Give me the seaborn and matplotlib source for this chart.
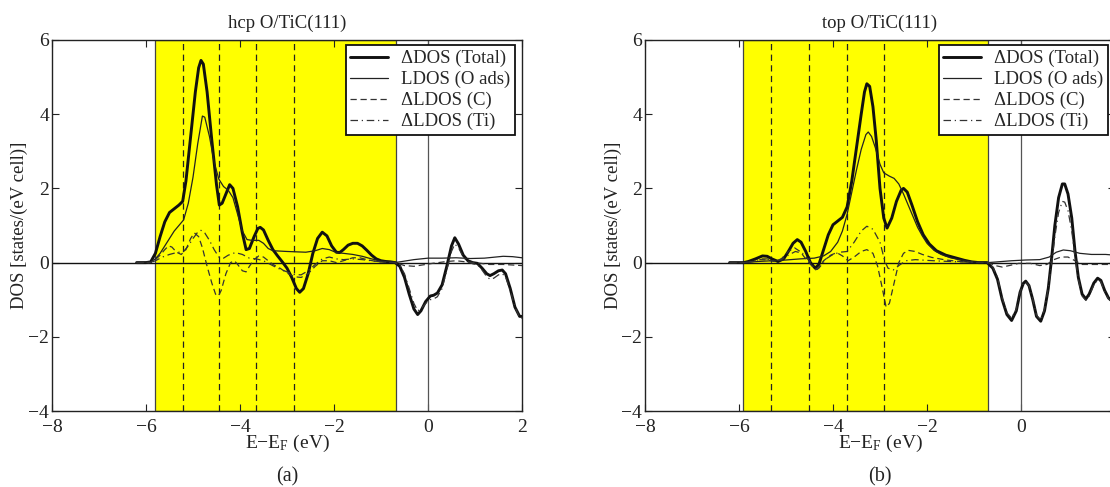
import matplotlib
matplotlib.use("Agg")
import matplotlib.pyplot as plt
import seaborn as sns

# ---------------- data ----------------
panel_titles = ["hcp O/TiC(111)", "top O/TiC(111)"]
panel_tags = ["(a)", "(b)"]
series_labels = ["ΔDOS (Total)", "LDOS (O ads)", "ΔLDOS (C)", "ΔLDOS (Ti)"]
x_ticks = [-8, -6, -4, -2, 0, 2]
y_ticks = [-4, -2, 0, 2, 4, 6]

# shaded energy window (eV) and dashed reference levels per panel
hcp_window = (-5.81, -0.69)
top_window = (-5.91, -0.71)
hcp_levels = [-5.22, -4.44, -3.65, -2.86]
top_levels = [-5.31, -4.51, -3.71, -2.91]

hcp_total = [(-6.2,0),(-6.0,0),(-5.9,0.02),(-5.8,0.25),(-5.7,0.7),(-5.6,1.1),(-5.5,1.35),(-5.4,1.45),
             (-5.3,1.55),(-5.22,1.65),(-5.15,2.2),(-5.05,3.4),(-4.95,4.6),(-4.88,5.25),(-4.83,5.45),
             (-4.78,5.35),(-4.7,4.6),(-4.6,3.3),(-4.5,2.1),(-4.44,1.55),(-4.38,1.6),(-4.3,1.85),
             (-4.22,2.1),(-4.15,2.0),(-4.05,1.5),(-3.95,0.8),(-3.87,0.35),(-3.8,0.38),(-3.7,0.7),
             (-3.62,0.92),(-3.57,0.95),(-3.5,0.88),(-3.4,0.6),(-3.3,0.35),(-3.2,0.18),(-3.1,0.02),
             (-3.0,-0.15),(-2.9,-0.4),(-2.8,-0.7),(-2.73,-0.8),(-2.65,-0.7),(-2.55,-0.3),(-2.45,0.25),
             (-2.35,0.65),(-2.25,0.82),(-2.15,0.72),(-2.05,0.45),(-1.95,0.28),(-1.88,0.27),(-1.8,0.35),
             (-1.7,0.47),(-1.6,0.52),(-1.5,0.52),(-1.4,0.45),(-1.3,0.33),(-1.2,0.2),(-1.1,0.1),
             (-1.0,0.05),(-0.9,0.03),(-0.8,0.02),(-0.7,0.0),(-0.6,-0.1),(-0.5,-0.4),(-0.4,-0.85),
             (-0.3,-1.25),(-0.22,-1.4),(-0.15,-1.3),(-0.05,-1.05),(0.05,-0.9),(0.12,-0.88),(0.2,-0.82),
             (0.3,-0.6),(0.4,-0.1),(0.5,0.45),(0.57,0.67),(0.65,0.5),(0.75,0.2),(0.85,0.05),(0.95,0.0),
             (1.05,-0.02),(1.15,-0.15),(1.25,-0.3),(1.32,-0.35),(1.4,-0.3),(1.5,-0.22),(1.58,-0.2),
             (1.65,-0.3),(1.75,-0.7),(1.85,-1.2),(1.95,-1.45),(2.0,-1.45)]

hcp_O = [(-6.2,0),(-5.9,0.02),(-5.8,0.1),(-5.7,0.25),(-5.6,0.45),(-5.5,0.65),(-5.4,0.85),(-5.3,1.0),
         (-5.2,1.15),(-5.1,1.6),(-5.0,2.3),(-4.9,3.2),(-4.8,3.95),(-4.75,3.92),(-4.65,3.4),(-4.55,2.7),
         (-4.45,2.25),(-4.35,2.05),(-4.25,1.95),(-4.15,1.75),(-4.05,1.3),(-3.95,0.85),(-3.85,0.62),
         (-3.75,0.6),(-3.6,0.6),(-3.5,0.52),(-3.4,0.38),(-3.3,0.32),(-3.0,0.3),(-2.6,0.28),(-2.4,0.32),
         (-2.25,0.38),(-2.1,0.35),(-1.95,0.27),(-1.8,0.25),(-1.6,0.22),(-1.4,0.17),(-1.2,0.1),
         (-1.0,0.04),(-0.8,0.02),(-0.65,0.01),(-0.5,0.04),(-0.3,0.08),(0.0,0.12),(0.3,0.12),
         (0.6,0.13),(0.9,0.11),(1.2,0.12),(1.6,0.17),(1.8,0.16),(2.0,0.13)]

hcp_C = [(-6.2,0),(-5.9,0.0),(-5.8,0.08),(-5.7,0.2),(-5.6,0.35),(-5.52,0.45),(-5.45,0.42),(-5.35,0.28),
         (-5.25,0.22),(-5.15,0.35),(-5.05,0.65),(-4.97,0.8),(-4.88,0.7),(-4.8,0.4),(-4.7,-0.1),
         (-4.6,-0.55),(-4.52,-0.85),(-4.46,-0.9),(-4.4,-0.75),(-4.3,-0.3),(-4.2,0.0),(-4.12,0.05),
         (-4.05,-0.05),(-3.95,-0.22),(-3.87,-0.25),(-3.8,-0.1),(-3.7,0.08),(-3.6,0.18),(-3.5,0.15),
         (-3.4,0.05),(-3.3,-0.05),(-3.15,-0.15),(-3.0,-0.28),(-2.85,-0.38),(-2.7,-0.4),(-2.55,-0.3),
         (-2.4,-0.1),(-2.25,0.05),(-2.1,0.05),(-1.95,0.0),(-1.8,0.05),(-1.6,0.13),(-1.45,0.13),
         (-1.3,0.08),(-1.1,0.03),(-0.9,0.01),(-0.7,0.0),(-0.5,-0.08),(-0.3,-0.1),(-0.1,-0.06),
         (0.1,-0.02),(0.4,0.03),(0.6,0.05),(0.8,0.02),(1.0,0.0),(1.3,-0.05),(1.6,-0.05),(2.0,-0.08)]

hcp_Ti = [(-6.2,0),(-5.9,0.0),(-5.8,0.05),(-5.65,0.15),(-5.5,0.22),(-5.35,0.27),(-5.2,0.3),(-5.1,0.45),
          (-5.0,0.65),(-4.9,0.82),(-4.83,0.87),(-4.75,0.8),(-4.65,0.6),(-4.55,0.35),(-4.45,0.15),
          (-4.35,0.12),(-4.25,0.2),(-4.1,0.27),(-3.95,0.22),(-3.8,0.12),(-3.65,0.1),(-3.5,0.05),
          (-3.35,-0.05),(-3.2,-0.15),(-3.0,-0.25),(-2.85,-0.32),(-2.7,-0.33),(-2.55,-0.22),(-2.4,-0.05),
          (-2.25,0.1),(-2.1,0.15),(-1.95,0.1),(-1.8,0.08),(-1.6,0.1),(-1.4,0.08),(-1.2,0.05),
          (-1.0,0.02),(-0.7,0.0),(-0.6,-0.08),(-0.5,-0.3),(-0.4,-0.7),(-0.3,-1.1),(-0.22,-1.3),
          (-0.15,-1.25),(-0.05,-1.1),(0.05,-1.0),(0.12,-0.98),(0.2,-0.92),(0.3,-0.7),(0.4,-0.2),
          (0.5,0.3),(0.57,0.5),(0.65,0.4),(0.75,0.15),(0.85,0.02),(0.95,-0.03),(1.05,-0.05),
          (1.15,-0.2),(1.25,-0.38),(1.32,-0.45),(1.4,-0.42),(1.5,-0.33),(1.58,-0.3),(1.65,-0.38),
          (1.75,-0.75),(1.85,-1.2),(1.95,-1.48),(2.0,-1.5)]

top_total = [(-6.2,0),(-5.9,0.0),(-5.8,0.03),(-5.65,0.1),(-5.5,0.18),(-5.4,0.17),(-5.3,0.1),(-5.17,0.03),
             (-5.05,0.1),(-4.95,0.3),(-4.85,0.52),(-4.76,0.62),(-4.68,0.55),(-4.58,0.3),(-4.48,0.0),
             (-4.38,-0.15),(-4.3,-0.05),(-4.2,0.35),(-4.1,0.75),(-4.0,1.02),(-3.9,1.12),(-3.8,1.22),
             (-3.7,1.5),(-3.6,2.2),(-3.5,3.1),(-3.4,4.0),(-3.33,4.6),(-3.28,4.82),(-3.22,4.75),
             (-3.15,4.2),(-3.08,3.3),(-3.0,2.0),(-2.92,1.2),(-2.85,0.93),(-2.75,1.2),(-2.65,1.65),
             (-2.55,1.95),(-2.5,2.0),(-2.42,1.9),(-2.32,1.55),(-2.2,1.1),(-2.08,0.75),(-1.95,0.5),
             (-1.8,0.32),(-1.6,0.2),(-1.4,0.13),(-1.2,0.06),(-1.05,0.02),(-0.9,0.0),(-0.72,0.0),
             (-0.6,-0.15),(-0.5,-0.45),(-0.4,-1.0),(-0.3,-1.4),(-0.2,-1.56),(-0.1,-1.3),(-0.02,-0.8),
             (0.05,-0.56),(0.1,-0.5),(0.17,-0.62),(0.25,-1.0),(0.33,-1.45),(0.42,-1.58),(0.5,-1.3),
             (0.58,-0.7),(0.65,0.1),(0.72,1.0),(0.8,1.75),(0.88,2.12),(0.93,2.12),(1.0,1.85),
             (1.08,1.2),(1.15,0.3),(1.22,-0.4),(1.3,-0.85),(1.38,-0.98),(1.45,-0.85),(1.55,-0.55),
             (1.63,-0.42),(1.7,-0.48),(1.78,-0.75),(1.86,-0.95),(1.95,-1.05),(2.0,-1.1)]

top_O = [(-6.2,0),(-5.9,0.0),(-5.6,0.03),(-5.3,0.05),(-5.0,0.07),(-4.7,0.1),(-4.4,0.12),(-4.2,0.18),
         (-4.05,0.3),(-3.9,0.55),(-3.8,0.85),(-3.7,1.3),(-3.6,1.9),(-3.5,2.5),(-3.4,3.05),(-3.3,3.45),
         (-3.25,3.52),(-3.18,3.4),(-3.1,3.1),(-3.0,2.65),(-2.92,2.42),(-2.8,2.33),(-2.7,2.27),
         (-2.6,2.12),(-2.5,1.85),(-2.4,1.55),(-2.3,1.25),(-2.2,0.95),(-2.1,0.72),(-2.0,0.52),
         (-1.85,0.33),(-1.7,0.22),(-1.5,0.13),(-1.3,0.08),(-1.1,0.03),(-0.9,0.01),(-0.7,0.0),
         (-0.5,0.02),(-0.2,0.05),(0.1,0.07),(0.4,0.08),(0.6,0.15),(0.75,0.28),(0.9,0.34),(1.05,0.32),
         (1.25,0.25),(1.5,0.22),(1.8,0.22),(2.0,0.2)]

top_C = [(-6.2,0),(-5.9,0.0),(-5.7,0.03),(-5.55,0.08),(-5.4,0.07),(-5.25,0.03),(-5.1,0.1),(-4.95,0.3),
         (-4.82,0.4),(-4.7,0.3),(-4.55,0.05),(-4.4,-0.15),(-4.33,-0.18),(-4.2,0.05),(-4.05,0.2),
         (-3.92,0.27),(-3.8,0.18),(-3.68,0.05),(-3.55,0.15),(-3.4,0.3),(-3.28,0.35),(-3.15,0.25),
         (-3.05,-0.1),(-2.95,-0.7),(-2.87,-1.2),(-2.8,-1.1),(-2.7,-0.55),(-2.6,0.0),(-2.5,0.25),
         (-2.4,0.33),(-2.25,0.3),(-2.1,0.22),(-1.9,0.14),(-1.6,0.07),(-1.3,0.03),(-1.0,0.01),
         (-0.7,0.0),(-0.55,-0.08),(-0.4,-0.12),(-0.25,-0.08),(-0.05,-0.02),(0.2,-0.02),(0.4,-0.08),
         (0.55,-0.05),(0.7,0.08),(0.85,0.15),(1.0,0.15),(1.15,0.05),(1.3,-0.05),(1.6,-0.05),(2.0,-0.05)]

top_Ti = [(-6.2,0),(-5.9,0.0),(-5.7,0.03),(-5.55,0.1),(-5.4,0.1),(-5.25,0.04),(-5.1,0.08),(-4.95,0.2),
          (-4.8,0.3),(-4.65,0.25),(-4.5,0.05),(-4.38,-0.2),(-4.3,-0.15),(-4.15,0.1),(-4.0,0.22),
          (-3.85,0.28),(-3.7,0.3),(-3.55,0.55),(-3.4,0.85),(-3.28,0.98),(-3.15,0.9),(-3.0,0.55),
          (-2.9,0.05),(-2.83,-0.15),(-2.72,-0.2),(-2.6,-0.08),(-2.45,0.05),(-2.25,0.08),(-2.0,0.06),
          (-1.7,0.04),(-1.3,0.02),(-0.9,0.0),(-0.72,0.0),(-0.6,-0.12),(-0.5,-0.4),(-0.4,-0.95),
          (-0.3,-1.35),(-0.2,-1.5),(-0.1,-1.25),(-0.02,-0.8),(0.05,-0.56),(0.1,-0.52),(0.17,-0.62),
          (0.25,-0.98),(0.33,-1.42),(0.42,-1.55),(0.5,-1.25),(0.58,-0.7),(0.65,-0.05),(0.72,0.7),
          (0.8,1.35),(0.88,1.65),(0.93,1.63),(1.0,1.4),(1.08,0.85),(1.15,0.15),(1.22,-0.45),
          (1.3,-0.9),(1.38,-1.02),(1.45,-0.9),(1.55,-0.6),(1.63,-0.47),(1.7,-0.52),(1.78,-0.78),
          (1.86,-0.98),(1.95,-1.08),(2.0,-1.12)]

# the right-hand panel runs past the page edge in the reference, so its "2" label is not shown
hcp_xticklabels = ["−8", "−6", "−4", "−2", "0", "2"]
top_xticklabels = ["−8", "−6", "−4", "−2", "0", ""]

panels = [
    dict(title=panel_titles[0], tag=panel_tags[0], window=hcp_window, levels=hcp_levels,
         curves=[hcp_total, hcp_O, hcp_C, hcp_Ti], xlabels=hcp_xticklabels),
    dict(title=panel_titles[1], tag=panel_tags[1], window=top_window, levels=top_levels,
         curves=[top_total, top_O, top_C, top_Ti], xlabels=top_xticklabels),
]

# ---------------- style ----------------
sns.set_style("ticks")
plt.rcParams["font.family"] = ["Liberation Serif", "DejaVu Serif"]
plt.rcParams["mathtext.fontset"] = "custom"
plt.rcParams["mathtext.rm"] = "Liberation Serif"
plt.rcParams["mathtext.it"] = "Liberation Serif:italic"
plt.rcParams["axes.unicode_minus"] = True

line_styles = [
    dict(color="#111111", lw=2.1, linestyle="-"),
    dict(color="#222222", lw=0.9, linestyle="-"),
    dict(color="#333333", lw=0.9, dashes=(5, 3)),
    dict(color="#333333", lw=0.9, dashes=(6, 3, 1, 3)),
]

TXT = "#222222"
W, H = 1110, 487
fig = plt.figure(figsize=(W / 100, H / 100), dpi=100)
ax_lefts = [52, 645]
ax_w, ax_bottom, ax_top = 470, 411, 40

for p, left in zip(panels, ax_lefts):
    ax = fig.add_axes([left / W, (H - ax_bottom) / H, ax_w / W, (ax_bottom - ax_top) / H])
    ax.axvspan(p["window"][0], p["window"][1], facecolor="#ffff00", edgecolor="#444444",
               lw=0.9, zorder=0)
    for lv in p["levels"]:
        ax.axvline(lv, color="#222222", lw=0.9, dashes=(5, 3.5), zorder=1)
    ax.axvline(0, color="#555555", lw=0.9, zorder=1)
    ax.axhline(0, color="#111111", lw=1.0, zorder=1)

    handles = []
    for pts, lab, st in zip(p["curves"], series_labels, line_styles):
        xs = [q[0] for q in pts]
        ys = [q[1] for q in pts]
        sns.lineplot(x=xs, y=ys, ax=ax, estimator=None, sort=False, zorder=3, **st)
        handles.append(ax.lines[-1])

    ax.set_xlim(-8, 2)
    ax.set_ylim(-4, 6)
    ax.set_xticks(x_ticks)
    ax.set_xticklabels(p["xlabels"])
    ax.set_yticks(y_ticks)
    ax.tick_params(direction="in", top=True, right=True, length=5, width=0.8,
                   labelsize=14, pad=2, colors=TXT)
    ax.tick_params(axis="x", pad=5.5)
    for s in ax.spines.values():
        s.set_linewidth(1.0)
        s.set_color("#222222")
        s.set_zorder(5)
    ax.set_title(p["title"], fontsize=13.5, pad=9, color=TXT)
    ax.set_xlabel("E−E$_\\mathrm{F}$ (eV)", fontsize=14, color=TXT)
    ax.xaxis.set_label_coords(0.5, -0.058)
    ax.set_ylabel("DOS [states/(eV cell)]", fontsize=13.5, color=TXT)
    ax.yaxis.set_label_coords(-0.05, 0.5)
    leg = ax.legend(handles, series_labels, loc="upper right", bbox_to_anchor=(0.985, 0.986),
                    borderaxespad=0, fontsize=13.5, frameon=True, fancybox=False,
                    framealpha=1, edgecolor="#111111", borderpad=0.25, labelspacing=0.2,
                    handlelength=2.0, handletextpad=0.7)
    leg.get_frame().set_linewidth(1.3)
    leg.set_zorder(6)
    fig.text((left + ax_w / 2) / W, (H - 477) / H, p["tag"], ha="center", va="center",
             fontsize=14.5, color=TXT)

fig.savefig("out.png", dpi=100)
